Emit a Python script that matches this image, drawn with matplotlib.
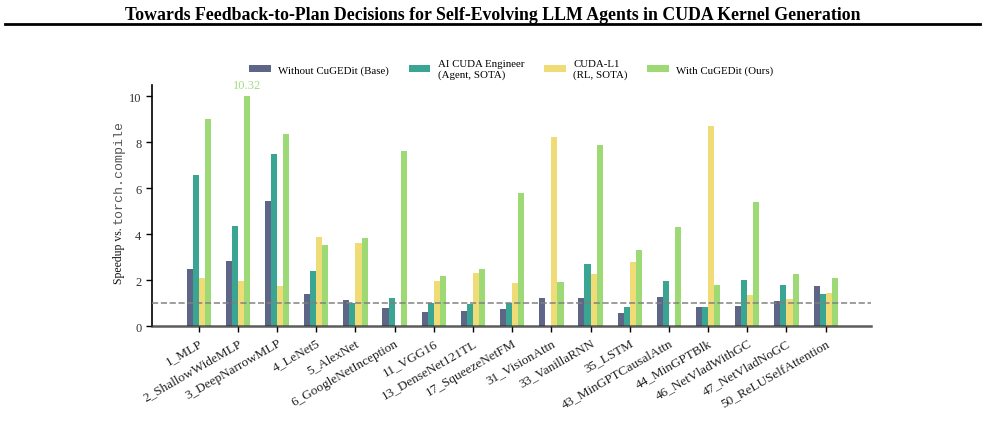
import matplotlib.pyplot as plt
import numpy as np
from matplotlib.lines import Line2D

plt.rcParams['font.family'] = ['Liberation Serif', 'DejaVu Serif']

# Data
tasks = ['1_MLP', '2_ShallowWideMLP', '3_DeepNarrowMLP', '4_LeNet5', '5_AlexNet',
         '6_GoogleNetInception', '11_VGG16', '13_DenseNet121TL', '17_SqueezeNetFM',
         '31_VisionAttn', '33_VanillaRNN', '35_LSTM', '43_MinGPTCausalAttn',
         '44_MinGPTBlk', '46_NetVladWithGC', '47_NetVladNoGC', '50_ReLUSelfAttention']
base = [2.49, 2.84, 5.46, 1.40, 1.14, 0.79, 0.61, 0.66, 0.74,
        1.22, 1.22, 0.57, 1.27, 0.83, 0.87, 1.09, 1.75]
ai_cuda = [6.59, 4.37, 7.47, 2.40, 1.00, 1.22, 1.00, 0.96, 1.00,
           0.0, 2.71, 0.83, 1.97, 0.83, 2.01, 1.79, 1.40]
cuda_l1 = [2.10, 1.97, 1.75, 3.89, 3.62, 0.0, 1.97, 2.31, 1.88,
           8.21, 2.27, 2.79, 0.0, 8.69, 1.35, 1.18, 1.44]
cugedit = [9.00, 10.32, 8.36, 3.54, 3.84, 7.64, 2.18, 2.49, 5.81,
           1.92, 7.90, 3.32, 4.32, 1.79, 5.41, 2.27, 2.10]

series = [
    ('Without CuGEDit (Base)', base, '#5d6686'),
    ('AI CUDA Engineer\n(Agent, SOTA)', ai_cuda, '#3ba594'),
    ('CUDA-L1\n(RL, SOTA)', cuda_l1, '#f0dc77'),
    ('With CuGEDit (Ours)', cugedit, '#9dd974'),
]
y_cap = 10.0

W, H = 985, 431
fig = plt.figure(figsize=(W / 100, H / 100), dpi=100)
fig.patch.set_facecolor('white')

# Paper-style header
fig.text(0.5, 0.965, 'Towards Feedback-to-Plan Decisions for Self-Evolving LLM Agents in CUDA Kernel Generation',
         ha='center', va='center', fontsize=12.8, fontweight='bold')
fig.add_artist(Line2D([0.005, 0.995], [0.942, 0.942], color='black', linewidth=2))

ax = fig.add_axes([0.154, 0.241, 0.730, 0.560])

x = np.arange(len(tasks))
w = 0.155
for i, (label, vals, color) in enumerate(series):
    shown = np.minimum(np.array(vals), y_cap)
    ax.bar(x + (i - 1.5) * w, shown, width=w, color=color, label=label, zorder=2)

# value label for the clipped bar
clip_idx = int(np.argmax(cugedit))
ax.text(x[clip_idx] + 1.5 * w, y_cap + 0.25, f'{cugedit[clip_idx]:.2f}',
        ha='center', va='bottom', color='#a6dc84', fontsize=9)

ax.axhline(1.0, color='gray', linestyle='--', linewidth=1.2, alpha=0.9, zorder=3)

ax.set_xlim(-1.2, 17.15)
ax.set_ylim(0, 10.5)
ax.set_yticks([0, 2, 4, 6, 8, 10])
ax.set_xticks(x)
ax.set_xticklabels(tasks, rotation=30, ha='right', rotation_mode='anchor', fontsize=9.5)
ax.tick_params(axis='y', labelsize=9, length=4, width=1, color='black', labelcolor='#333333')
ax.tick_params(axis='x', length=4, width=1, color='black', labelcolor='#222222')

ax.spines['top'].set_visible(False)
ax.spines['right'].set_visible(False)
ax.spines['left'].set_color('black')
ax.spines['left'].set_linewidth(1.2)
ax.spines['bottom'].set_color('#333333')
ax.spines['bottom'].set_linewidth(1.8)
ax.spines['bottom'].set_alpha(0.8)
ax.spines['bottom'].set_zorder(4)

# y label: serif part + monospace part
t1 = fig.text(122 / W, 1 - 284 / H, 'Speedup vs. ', rotation=90, rotation_mode='anchor',
              ha='left', va='baseline', fontsize=8.5, color='#111111')
fig.canvas.draw()
bb = t1.get_window_extent()
fig.text(122 / W, bb.y1 / H, 'torch.compile', rotation=90, rotation_mode='anchor',
         ha='left', va='baseline', fontsize=9.5, family='Liberation Mono', color='#555555')

ax.legend(loc='center', bbox_to_anchor=(0.5, 1.066), ncol=4, frameon=False,
          fontsize=7.8, handlelength=2.0, handleheight=0.7, handletextpad=0.7,
          columnspacing=1.8)

plt.savefig('out.png', dpi=100, facecolor=fig.get_facecolor())
